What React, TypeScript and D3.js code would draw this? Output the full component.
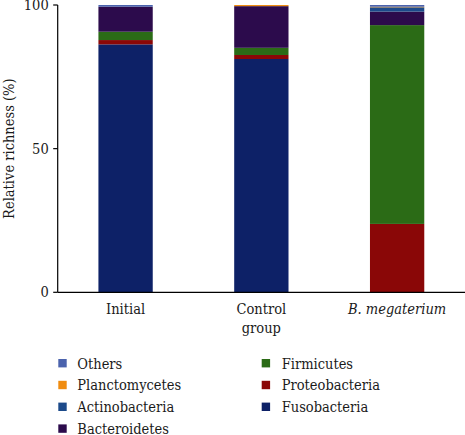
import React from "react";
import * as d3 from "d3";

const groups = ["Initial", "Control group", "B. megaterium"];
const phyla = ["Fusobacteria", "Proteobacteria", "Firmicutes", "Bacteroidetes", "Actinobacteria", "Planctomycetes", "Others"];
const fusobacteria = [86.3, 81.2, 0];
const proteobacteria = [1.5, 1.4, 23.8];
const firmicutes = [2.9, 2.5, 69.2];
const bacteroidetes = [8.7, 14.5, 4.7];
const actinobacteria = [0, 0, 1.5];
const planctomycetes = [0, 0.4, 0.2];
const others = [0.6, 0, 0.6];
const yTicks = [0, 50, 100];
const legendLeft = ["Others", "Planctomycetes", "Actinobacteria", "Bacteroidetes"];
const legendRight = ["Firmicutes", "Proteobacteria", "Fusobacteria"];

const colors: Record<string, string> = {
  Fusobacteria: "#0d2167",
  Proteobacteria: "#8a0707",
  Firmicutes: "#2b6b16",
  Bacteroidetes: "#2c0b4c",
  Actinobacteria: "#1c4a8a",
  Planctomycetes: "#f08c10",
  Others: "#4b63ad",
};

const W = 465, H = 435;
const x0 = 57.7, x1 = 465, yBottom = 292.3, yTop = 5;
const font = "'DejaVu Serif Condensed', 'DejaVu Serif', serif";
const fs = 14.5;
const ts: React.CSSProperties = { fontFamily: font, fontStretch: "condensed", fontSize: fs, fill: "#1a1a1a" };

export default function App() {
  const series: Record<string, number[]> = {
    Fusobacteria: fusobacteria,
    Proteobacteria: proteobacteria,
    Firmicutes: firmicutes,
    Bacteroidetes: bacteroidetes,
    Actinobacteria: actinobacteria,
    Planctomycetes: planctomycetes,
    Others: others,
  };
  const rows = groups.map((g, i) => {
    const r: any = { group: g };
    phyla.forEach((p) => (r[p] = series[p][i]));
    return r;
  });
  const stacked = d3.stack<any>().keys(phyla)(rows);
  const x = d3.scaleBand().domain(groups).range([x0, x1]).paddingInner(0.6).paddingOuter(0.3);
  const y = d3.scaleLinear().domain([0, 100]).range([yBottom, yTop]);
  const cx = (g: string) => x(g)! + x.bandwidth() / 2;

  return (
    <svg width={W} height={H} style={{ position: "absolute", left: 0, top: 0, background: "#fff" }}>
      {stacked.map((s) => (
        <g key={s.key} fill={colors[s.key]}>
          {s.map((d, i) => {
            const h = y(d[0]) - y(d[1]);
            if (h <= 0) return null;
            return <rect key={i} x={x(groups[i])!} width={x.bandwidth()} y={y(d[1])} height={h} />;
          })}
        </g>
      ))}
      <line x1={x0} x2={x0} y1={yTop} y2={yBottom} stroke="#000" strokeWidth={1.2} />
      <line x1={x0} x2={x1} y1={yBottom} y2={yBottom} stroke="#000" strokeWidth={1.2} />
      {yTicks.map((t) => (
        <g key={t}>
          <line x1={x0 - 4.5} x2={x0} y1={y(t)} y2={y(t)} stroke="#000" strokeWidth={1.2} />
          <text x={x0 - 9} y={y(t)} dy="0.35em" textAnchor="end" style={ts}>
            {t}
          </text>
        </g>
      ))}
      <text transform={`translate(14,${(yTop + yBottom) / 2}) rotate(-90)`} textAnchor="middle" style={ts}>
        Relative richness (%)
      </text>
      <text x={cx("Initial")} y={313.5} textAnchor="middle" style={ts}>
        Initial
      </text>
      <text x={cx("Control group")} y={313.5} textAnchor="middle" style={ts}>
        <tspan x={cx("Control group")}>Control</tspan>
        <tspan x={cx("Control group")} dy={19}>group</tspan>
      </text>
      <text x={cx("B. megaterium")} y={313.5} textAnchor="middle" style={{ ...ts, fontStyle: "italic" }}>
        B. megaterium
      </text>
      {legendLeft.map((k, i) => (
        <g key={k} transform={`translate(58.3,${368.5 + i * 21.8})`}>
          <rect x={0} y={-9.5} width={8.4} height={8.4} fill={colors[k]} />
          <text x={19} y={0} style={ts}>{k}</text>
        </g>
      ))}
      {legendRight.map((k, i) => (
        <g key={k} transform={`translate(261.7,${368.5 + i * 21.8})`}>
          <rect x={0} y={-9.5} width={8.4} height={8.4} fill={colors[k]} />
          <text x={20} y={0} style={ts}>{k}</text>
        </g>
      ))}
    </svg>
  );
}
